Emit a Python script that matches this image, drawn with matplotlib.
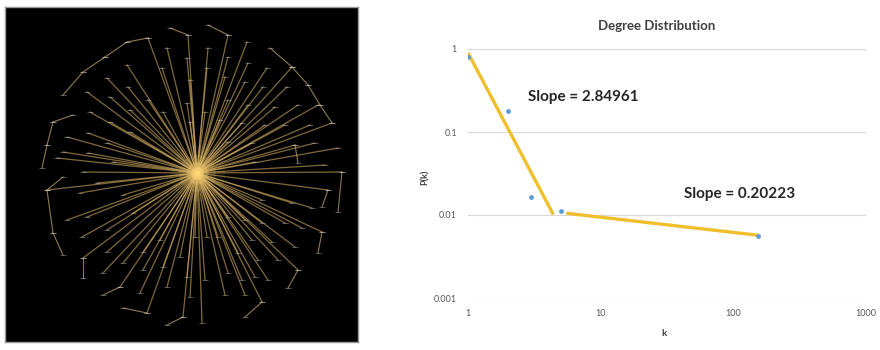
import matplotlib
matplotlib.use("Agg")
import matplotlib.pyplot as plt

plt.rcParams['font.family'] = ['Lato', 'DejaVu Sans']

# ---- network (left): node positions, in pixels ----
hub = (197, 173)
leaf_x = [188, 148, 167, 187, 162, 127, 190, 107, 128, 87, 148, 110, 187, 90, 130, 163,
          110, 88, 130, 67, 107, 63, 88, 57, 113, 190, 83,
          228, 208, 247, 228, 248, 207, 292, 225, 267, 245, 263, 287, 228, 248, 275, 298,
          318, 205, 220, 242, 265, 285, 310, 332, 228, 252, 295, 315, 338, 255, 325, 342,
          328, 312, 292, 262, 322, 302, 285, 262, 245, 228, 295, 272, 252, 298, 278, 258,
          238, 207, 218, 268, 255, 242, 228, 262, 245, 225, 205, 202,
          47, 97, 80, 123, 67, 87, 107, 82, 133, 107, 83, 123, 143, 103, 120, 143, 160,
          163, 140, 147, 167, 180, 187, 183, 190, 195]
leaf_y = [35, 38, 48, 58, 68, 65, 80, 78, 87, 92, 100, 97, 103, 112, 110, 112,
          122, 133, 132, 137, 143, 152, 153, 158, 162, 122, 172,
          35, 48, 42, 57, 63, 68, 67, 77, 68, 82, 87, 87, 100, 105, 107, 105,
          105, 112, 120, 123, 125, 125, 125, 123, 142, 143, 145, 143, 148, 162, 165, 172,
          190, 208, 203, 200, 232, 228, 223, 223, 220, 217, 247, 242, 240, 270, 260, 260,
          253, 237, 237, 280, 277, 280, 273, 302, 295, 295, 280, 323,
          190, 183, 193, 195, 220, 217, 230, 237, 213, 252, 258, 263, 252, 273, 287, 270, 240,
          267, 293, 313, 287, 257, 277, 317, 297, 237]
chains = [((63, 95), (83, 72)), ((83, 72), (105, 57)), ((105, 57), (127, 42)),
          ((127, 42), (148, 38)), ((170, 28), (188, 35)), ((208, 25), (228, 35)),
          ((270, 48), (292, 67)), ((292, 67), (308, 85)), ((308, 85), (320, 105)),
          ((320, 105), (332, 123)), ((295, 145), (298, 163)), ((342, 172), (338, 212)),
          ((328, 190), (322, 207)), ((322, 232), (318, 253)), ((298, 270), (288, 288)),
          ((262, 302), (245, 317)), ((183, 317), (167, 325)), ((147, 313), (123, 308)),
          ((120, 287), (103, 295)), ((83, 258), (83, 278)), ((47, 190), (53, 233)),
          ((53, 233), (63, 255)), ((47, 190), (63, 177)), ((73, 115), (53, 122)),
          ((53, 122), (47, 145)), ((47, 145), (42, 168))]

# ---- degree distribution (right) ----
k = [1, 2, 3, 5, 154]
pk = [0.80, 0.179, 0.0166, 0.0113, 0.00558]
fit1_k = [1, 4.4]
fit1_p = [0.90, 0.0101]
fit2_k = [5.5, 154]
fit2_p = [0.0105, 0.0057]
slope1 = "Slope = 2.84961"
slope2 = "Slope = 0.20223"

fig = plt.figure(figsize=(8.8, 3.5), dpi=100)

# left panel
ax1 = fig.add_axes([5 / 880, 1 - 342 / 350, 353 / 880, 335 / 350])
ax1.set_facecolor('black')
ax1.set_xlim(5, 358)
ax1.set_ylim(342, 7)
for sp in ax1.spines.values():
    sp.set_color('#9a9a9a')
    sp.set_linewidth(1)
ax1.set_xticks([])
ax1.set_yticks([])
for x, y in zip(leaf_x, leaf_y):
    ax1.plot([hub[0], x], [hub[1], y], color='#d4ae62', lw=0.9, alpha=0.6)
for (a, b) in chains:
    ax1.plot([a[0], b[0]], [a[1], b[1]], color='#bfa26a', lw=0.8, alpha=0.75)
chain_x = [p[0] for c in chains for p in c]
chain_y = [p[1] for c in chains for p in c]
ax1.plot(leaf_x + chain_x, leaf_y + chain_y, ls='none', marker='_', ms=5,
         mew=0.7, color='#cfcfcf', alpha=0.4)
for s, a in [(1600, 0.06), (700, 0.12), (250, 0.25), (80, 0.55), (20, 0.9)]:
    ax1.scatter([hub[0]], [hub[1]], s=s, color='#ffd873', alpha=a, lw=0, zorder=5)

# right panel
ax2 = fig.add_axes([468 / 880, 1 - 298 / 350, 398 / 880, 249 / 350])
ax2.set_xscale('log')
ax2.set_yscale('log')
ax2.set_xlim(1, 1000)
ax2.set_ylim(0.001, 1)
ax2.set_xticks([1, 10, 100, 1000])
ax2.set_xticklabels(['1', '10', '100', '1000'])
ax2.set_yticks([0.001, 0.01, 0.1, 1])
ax2.set_yticklabels(['0.001', '0.01', '0.1', '1'])
ax2.minorticks_off()
ax2.tick_params(length=0, labelsize=6.5, colors='#595959', pad=8)
ax2.grid(axis='y', color='#d9d9d9', lw=0.8)
ax2.set_axisbelow(True)
for sp in ax2.spines.values():
    sp.set_visible(False)
ax2.plot(fit1_k, fit1_p, color='#efbf2c', lw=2.4, solid_capstyle='butt', zorder=3)
ax2.plot(fit2_k, fit2_p, color='#efbf2c', lw=2.4, solid_capstyle='butt', zorder=3)
ax2.scatter(k, pk, s=12, color='#5b9bd5', zorder=4, lw=0)
ax2.text(2.83, 0.264, slope1, fontsize=11, fontweight='bold', color='#262626',
         va='center', ha='left')
ax2.text(42.5, 0.0179, slope2, fontsize=11, fontweight='bold', color='#262626',
         va='center', ha='left')

fig.text(657 / 880, 1 - 26 / 350, 'Degree Distribution', ha='center', va='center',
         fontsize=9.5, fontweight='bold', color='#404040')
fig.text(664 / 880, 1 - 333 / 350, 'k', ha='center', va='center',
         fontsize=7, fontweight='bold', color='#404040')
fig.text(425 / 880, 1 - 177 / 350, 'P(k)', ha='center', va='center', rotation=90,
         fontsize=6.5, fontweight='bold', color='#404040')

fig.savefig('out.png', dpi=100, facecolor='white')
